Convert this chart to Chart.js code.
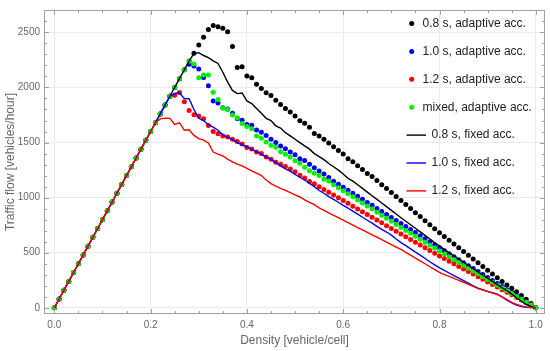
<!DOCTYPE html>
<html>
<head>
<meta charset="utf-8">
<script src="https://cdn.jsdelivr.net/npm/chart.js@4.4.1/dist/chart.umd.min.js"></script>
<style>
  html, body { margin: 0; padding: 0; background: #fff; }
  #wrap { width: 550px; height: 351px; }
</style>
</head>
<body>
<div id="wrap"><canvas id="flowChart" width="550" height="351"></canvas></div>
<script>
// density [vehicle/cell]
var density = [
    0, 0.01, 0.02, 0.03, 0.04, 0.05, 0.06, 0.07, 0.08, 0.09,
    0.1, 0.11, 0.12, 0.13, 0.14, 0.15, 0.16, 0.17, 0.18, 0.19,
    0.2, 0.21, 0.22, 0.23, 0.24, 0.25, 0.26, 0.27, 0.28, 0.29,
    0.3, 0.31, 0.32, 0.33, 0.34, 0.35, 0.36, 0.37, 0.38, 0.39,
    0.4, 0.41, 0.42, 0.43, 0.44, 0.45, 0.46, 0.47, 0.48, 0.49,
    0.5, 0.51, 0.52, 0.53, 0.54, 0.55, 0.56, 0.57, 0.58, 0.59,
    0.6, 0.61, 0.62, 0.63, 0.64, 0.65, 0.66, 0.67, 0.68, 0.69,
    0.7, 0.71, 0.72, 0.73, 0.74, 0.75, 0.76, 0.77, 0.78, 0.79,
    0.8, 0.81, 0.82, 0.83, 0.84, 0.85, 0.86, 0.87, 0.88, 0.89,
    0.9, 0.91, 0.92, 0.93, 0.94, 0.95, 0.96, 0.97, 0.98, 0.99,
    1
];

// flow [vehicles/hour], adaptive acceleration (dots)
var adaptive08 = [
    0, 80, 160, 240, 320, 400, 480, 560, 640, 720,
    800, 880, 960, 1040, 1120, 1200, 1280, 1360, 1440, 1520,
    1600, 1680, 1760, 1840, 1920, 2000, 2080, 2160, 2240, 2310,
    2385, 2455, 2525, 2562, 2552, 2538, 2505, 2372, 2182, 2188,
    2104, 2087, 2030, 1991, 1952, 1926, 1884, 1845, 1810, 1777,
    1741, 1698, 1676, 1640, 1582, 1560, 1530, 1497, 1461, 1429,
    1396, 1352, 1325, 1289, 1256, 1220, 1191, 1155, 1118, 1083,
    1046, 1010, 973, 937, 901, 864, 828, 791, 755, 718,
    682, 648, 614, 580, 545, 511, 477, 443, 408, 374,
    340, 306, 272, 240, 208, 177, 145, 112, 78, 40,
    0
];
var adaptive10 = [
    0, 80, 160, 240, 320, 400, 480, 560, 640, 720,
    800, 880, 960, 1040, 1120, 1200, 1280, 1360, 1440, 1520,
    1600, 1680, 1760, 1840, 1920, 2000, 2080, 2160, 2210, 2195,
    2168, 2090, 2015, 1878, 1860, 1816, 1804, 1765, 1718, 1703,
    1664, 1658, 1613, 1593, 1563, 1530, 1500, 1468, 1444, 1414,
    1390, 1354, 1337, 1304, 1271, 1241, 1214, 1182, 1149, 1122,
    1094, 1067, 1040, 1012, 985, 957, 930, 902, 875, 848,
    820, 793, 765, 738, 710, 683, 655, 628, 600, 573,
    545, 518, 491, 464, 437, 410, 383, 356, 329, 302,
    275, 248, 220, 193, 165, 138, 110, 83, 55, 28,
    0
];
var adaptive12 = [
    0, 80, 160, 240, 320, 400, 480, 560, 640, 720,
    800, 880, 960, 1040, 1120, 1200, 1280, 1360, 1440, 1520,
    1600, 1680, 1760, 1840, 1920, 1930, 1955, 1870, 1790, 1752,
    1740, 1716, 1655, 1600, 1580, 1560, 1550, 1530, 1510, 1487,
    1456, 1441, 1414, 1400, 1370, 1349, 1322, 1304, 1283, 1259,
    1236, 1203, 1178, 1146, 1125, 1100, 1075, 1049, 1024, 999,
    974, 948, 923, 898, 873, 847, 822, 797, 772, 746,
    721, 696, 670, 645, 620, 595, 570, 545, 520, 495,
    470, 447, 423, 400, 376, 353, 329, 306, 282, 259,
    235, 212, 188, 165, 141, 118, 94, 71, 47, 24,
    0
];
var adaptiveMixed = [
    0, 80, 160, 240, 320, 400, 480, 560, 640, 720,
    800, 880, 960, 1040, 1120, 1200, 1280, 1360, 1440, 1520,
    1600, 1680, 1760, 1840, 1920, 2000, 2080, 2160, 2240, 2212,
    2087, 2112, 2114, 1957, 1890, 1812, 1799, 1750, 1725, 1672,
    1646, 1626, 1560, 1540, 1506, 1475, 1458, 1417, 1393, 1369,
    1335, 1312, 1275, 1244, 1222, 1200, 1166, 1150, 1118, 1090,
    1062, 1035, 1007, 979, 951, 924, 896, 868, 840, 813,
    785, 757, 729, 702, 676, 649, 622, 595, 569, 542,
    515, 489, 463, 438, 412, 386, 360, 335, 309, 283,
    257, 232, 206, 180, 154, 129, 103, 77, 51, 26,
    0
];

// flow [vehicles/hour], fixed acceleration (lines)
var fixed08 = [
    0, 80, 160, 240, 320, 400, 480, 560, 640, 720,
    800, 880, 960, 1040, 1120, 1200, 1280, 1360, 1440, 1520,
    1600, 1680, 1760, 1840, 1920, 2000, 2080, 2160, 2240, 2310,
    2316, 2290, 2270, 2241, 2218, 2138, 2048, 1973, 1944, 1950,
    1878, 1854, 1810, 1765, 1720, 1700, 1652, 1632, 1590, 1560,
    1530, 1500, 1470, 1440, 1400, 1372, 1345, 1310, 1280, 1250,
    1215, 1175, 1150, 1117, 1084, 1050, 1017, 984, 951, 918,
    884, 851, 818, 786, 754, 722, 689, 657, 625, 592,
    560, 530, 500, 472, 443, 414, 385, 356, 327, 298,
    270, 240, 210, 182, 155, 125, 92, 60, 32, 12,
    0
];
var fixed10 = [
    0, 80, 160, 240, 320, 400, 480, 560, 640, 720,
    800, 880, 960, 1040, 1120, 1200, 1280, 1360, 1440, 1520,
    1600, 1680, 1760, 1840, 1920, 1945, 1950, 1900, 1898, 1800,
    1720, 1700, 1662, 1640, 1612, 1570, 1550, 1527, 1500, 1480,
    1462, 1438, 1418, 1393, 1370, 1348, 1318, 1289, 1262, 1240,
    1210, 1185, 1160, 1130, 1100, 1065, 1040, 1010, 985, 958,
    930, 905, 878, 850, 822, 795, 768, 740, 712, 688,
    660, 625, 592, 565, 535, 505, 478, 448, 418, 390,
    362, 340, 316, 292, 270, 248, 225, 200, 178, 165,
    150, 138, 125, 100, 70, 45, 25, 12, 5, 2,
    0
];
var fixed12 = [
    0, 80, 160, 240, 320, 400, 480, 560, 640, 720,
    800, 880, 960, 1040, 1120, 1200, 1280, 1360, 1440, 1520,
    1600, 1680, 1715, 1722, 1720, 1665, 1680, 1612, 1616, 1565,
    1535, 1522, 1497, 1414, 1395, 1378, 1350, 1325, 1305, 1289,
    1265, 1244, 1222, 1200, 1160, 1128, 1105, 1085, 1066, 1045,
    1025, 1006, 980, 958, 937, 908, 885, 862, 840, 818,
    795, 773, 751, 729, 707, 685, 663, 641, 619, 597,
    574, 552, 530, 504, 478, 452, 426, 400, 373, 347,
    321, 302, 285, 268, 250, 232, 213, 195, 175, 160,
    148, 135, 120, 100, 75, 50, 32, 18, 9, 3,
    0
];

var seriesLabels = [
    '0.8 s, adaptive acc.', '1.0 s, adaptive acc.', '1.2 s, adaptive acc.',
    'mixed, adaptive acc.', '0.8 s, fixed acc.', '1.0 s, fixed acc.', '1.2 s, fixed acc.'
];
var seriesColors = ['#000000', '#0000ff', '#ff0000', '#00f000', '#000000', '#0000ff', '#ff0000'];

// axis ticks
var xTicks = [0, 0.2, 0.4, 0.6, 0.8, 1];
var yTicks = [0, 500, 1000, 1500, 2000, 2500];
var xMinor = [0, 0.05, 0.1, 0.15, 0.2, 0.25, 0.3, 0.35, 0.4, 0.45, 0.5,
    0.55, 0.6, 0.65, 0.7, 0.75, 0.8, 0.85, 0.9, 0.95, 1];
var yMinor = [0, 100, 200, 300, 400, 500, 600, 700, 800, 900, 1000, 1100, 1200, 1300,
    1400, 1500, 1600, 1700, 1800, 1900, 2000, 2100, 2200, 2300, 2400, 2500, 2600, 2700];

(function () {
    var FONT = "'Liberation Sans', Arial, sans-serif";
    var GRAY = '#666666';

    function points(ys) {
        return density.map(function (x, i) { return {x: x, y: ys[i]}; });
    }

    function dots(idx, ys) {
        return {
            label: seriesLabels[idx], data: points(ys), showLine: false,
            pointRadius: 2.5, pointBorderWidth: 0,
            pointBackgroundColor: seriesColors[idx], borderColor: seriesColors[idx]
        };
    }

    function line(idx, ys) {
        return {
            label: seriesLabels[idx], data: points(ys), showLine: true,
            pointRadius: 0, borderWidth: 1.4, tension: 0,
            borderColor: seriesColors[idx]
        };
    }

    // frame with inward ticks, like the original plot
    var framePlugin = {
        id: 'frame',
        afterDatasetsDraw: function (chart) {
            var ctx = chart.ctx, a = chart.chartArea;
            var xs = chart.scales.x, ys = chart.scales.y;
            ctx.save();
            ctx.strokeStyle = '#a0a0a0';
            ctx.lineWidth = 1;
            ctx.strokeRect(a.left + 0.5, a.top + 0.5, a.right - a.left - 1, a.bottom - a.top - 1);
            ctx.beginPath();
            xMinor.forEach(function (v) {
                var px = Math.round(xs.getPixelForValue(v)) + 0.5;
                var len = xTicks.indexOf(v) >= 0 ? 5 : 3;
                ctx.moveTo(px, a.bottom); ctx.lineTo(px, a.bottom - len);
                ctx.moveTo(px, a.top); ctx.lineTo(px, a.top + len);
            });
            yMinor.forEach(function (v) {
                var py = Math.round(ys.getPixelForValue(v)) + 0.5;
                var len = yTicks.indexOf(v) >= 0 ? 5 : 3;
                ctx.moveTo(a.left, py); ctx.lineTo(a.left + len, py);
                ctx.moveTo(a.right, py); ctx.lineTo(a.right - len, py);
            });
            ctx.stroke();
            ctx.restore();
        }
    };

    // legend inside the plot, top right
    var legendPlugin = {
        id: 'innerLegend',
        afterDraw: function (chart) {
            var ctx = chart.ctx;
            var rowY = 23.5, step = 27.9;
            ctx.save();
            ctx.font = '12px ' + FONT;
            ctx.textBaseline = 'middle';
            ctx.fillStyle = '#222222';
            seriesLabels.forEach(function (txt, i) {
                var y = rowY + i * step;
                if (i < 4) {
                    ctx.beginPath();
                    ctx.fillStyle = seriesColors[i];
                    ctx.arc(411.7, y, 2.5, 0, Math.PI * 2);
                    ctx.fill();
                    ctx.fillStyle = '#222222';
                    ctx.fillText(txt, 422.5, y);
                } else {
                    ctx.beginPath();
                    ctx.strokeStyle = seriesColors[i];
                    ctx.lineWidth = 1.4;
                    ctx.moveTo(406.5, y); ctx.lineTo(426, y);
                    ctx.stroke();
                    ctx.fillText(txt, 431.5, y);
                }
            });
            ctx.restore();
        }
    };

    var ctx = document.getElementById('flowChart').getContext('2d');
    new Chart(ctx, {
        type: 'scatter',
        data: {
            // first dataset ends up on top
            datasets: [
                line(6, fixed12), line(5, fixed10), line(4, fixed08),
                dots(3, adaptiveMixed), dots(2, adaptive12), dots(1, adaptive10), dots(0, adaptive08)
            ]
        },
        options: {
            responsive: false,
            animation: false,
            layout: {padding: {top: 5, right: 5, left: 0, bottom: 0}},
            plugins: {legend: {display: false}, tooltip: {enabled: false}},
            scales: {
                x: {
                    type: 'linear', min: -0.0214, max: 1.0191,
                    afterBuildTicks: function (s) { s.ticks = xTicks.map(function (v) { return {value: v}; }); },
                    afterFit: function (s) { s.height = 37; },
                    grid: {color: '#ebebeb', drawTicks: false},
                    border: {display: false},
                    ticks: {
                        padding: 5, color: GRAY, font: {family: FONT, size: 10},
                        callback: function (v) { return v.toFixed(1); }
                    },
                    title: {
                        display: true, text: 'Density [vehicle/cell]', color: GRAY,
                        font: {family: FONT, size: 12}, padding: {top: 0, bottom: 3}
                    }
                },
                y: {
                    type: 'linear', min: -56, max: 2703,
                    afterBuildTicks: function (s) { s.ticks = yTicks.map(function (v) { return {value: v}; }); },
                    afterFit: function (s) { s.width = 44; },
                    grid: {color: '#ebebeb', drawTicks: false},
                    border: {display: false},
                    ticks: {
                        padding: 4, color: GRAY, font: {family: FONT, size: 10},
                        callback: function (v) { return String(v); }
                    },
                    title: {
                        display: true, text: 'Traffic flow [vehicles/hour]', color: GRAY,
                        font: {family: FONT, size: 12}, padding: {top: 3, bottom: 0}
                    }
                }
            }
        },
        plugins: [framePlugin, legendPlugin]
    });
})();
</script>
</body>
</html>
